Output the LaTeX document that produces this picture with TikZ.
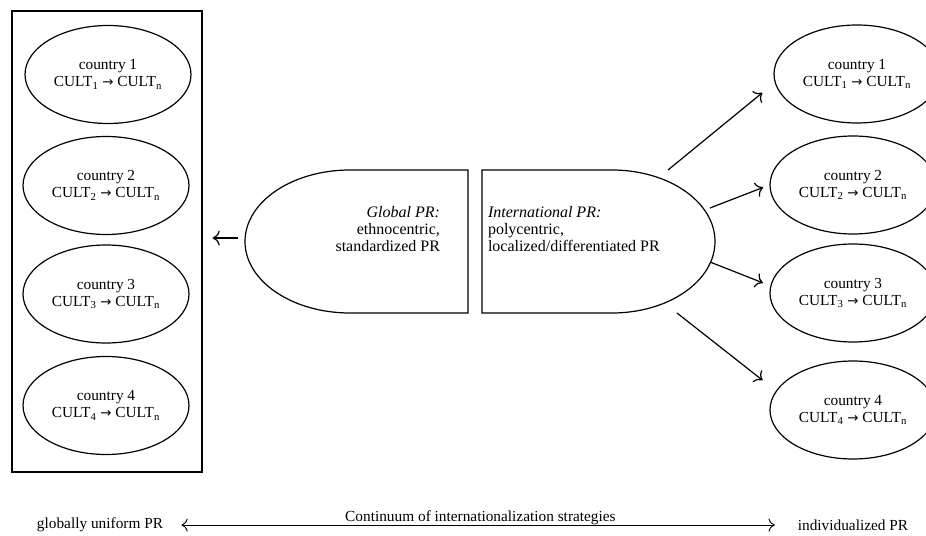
\documentclass[tikz,border=0pt]{standalone}
\usepackage{fontspec}
\setmainfont{Liberation Serif}
\newfontfamily\arrowfont{DejaVu Sans}
\usepackage{tikz}
\usetikzlibrary{shapes.geometric,arrows.meta}

\newcommand{\cultline}[1]{CULT\textsubscript{#1} {\arrowfont\fontsize{10}{12}\selectfont →} CULT\textsubscript{n}}

\begin{document}
\begin{tikzpicture}
  [x=0.75pt,y=0.75pt,line width=0.9pt,>={To[scale=1.5]},
   every node/.style={font=\fontsize{11.5}{12.75}\selectfont},
   country/.style={ellipse,draw,minimum width=124.5pt,minimum height=73.5pt,inner sep=0pt,align=center},
   prtext/.style={font=\fontsize{12}{12.75}\selectfont}]
  \useasboundingbox (0,0) rectangle (926,536);
  \clip (0,0) rectangle (926,536);

  \node[draw,minimum width=142.5pt,minimum height=345.75pt] (box) at (107,294.5) {};
  \node[country] (l1) at (108,461.5) {country 1\\\cultline{1}};
  \node[country] (l2) at (106,350.5) {country 2\\\cultline{2}};
  \node[country] (l3) at (106,242)   {country 3\\\cultline{3}};
  \node[country] (l4) at (106,130.5) {country 4\\\cultline{4}};

  \node[country] (r1) at (857,462) {country 1\\\cultline{1}};
  \node[country] (r2) at (853,351) {country 2\\\cultline{2}};
  \node[country] (r3) at (853,243) {country 3\\\cultline{3}};
  \node[country] (r4) at (853,126) {country 4\\\cultline{4}};

  \draw (468,366) -- (350,366) arc[start angle=90,end angle=270,x radius=105,y radius=71.5] -- (468,223) -- cycle;
  \draw (482,366) -- (612,366) arc[start angle=90,end angle=-90,x radius=103,y radius=71.5] -- (482,223) -- cycle;
  \node[prtext,align=right,anchor=east] (glob) at (445,307) {\textit{Global PR:}\\ethnocentric,\\standardized PR};
  \node[prtext,align=left,anchor=west] (intl) at (483,307) {\textit{International PR:}\\polycentric,\\localized/differentiated PR};

  \coordinate (gl) at (238,298);
  \coordinate (s1) at (668,366);
  \coordinate (s2) at (710,328);
  \coordinate (s3) at (710,274);
  \coordinate (s4) at (677,223);

  \draw[->,shorten >=7.5pt] (gl) -- (gl -| box.east);
  \foreach \from/\to/\gap in {s1/r1.186/12pt,s2/r2.180/5pt,s3/r3.175/6pt,s4/r4.166/12.75pt}
    \draw[->,shorten >=\gap] (\from) -- (\to);

  \node (gu) at (100,11) {globally uniform PR};
  \node (ip) at (853,11) {individualized PR};
  \draw[<->,line width=0.7pt,shorten <=10pt,shorten >=13.5pt] (gu.east) -- node[anchor=south,inner sep=0pt] (cont) {Continuum of internationalization strategies} (ip.west);
\end{tikzpicture}
\end{document}
